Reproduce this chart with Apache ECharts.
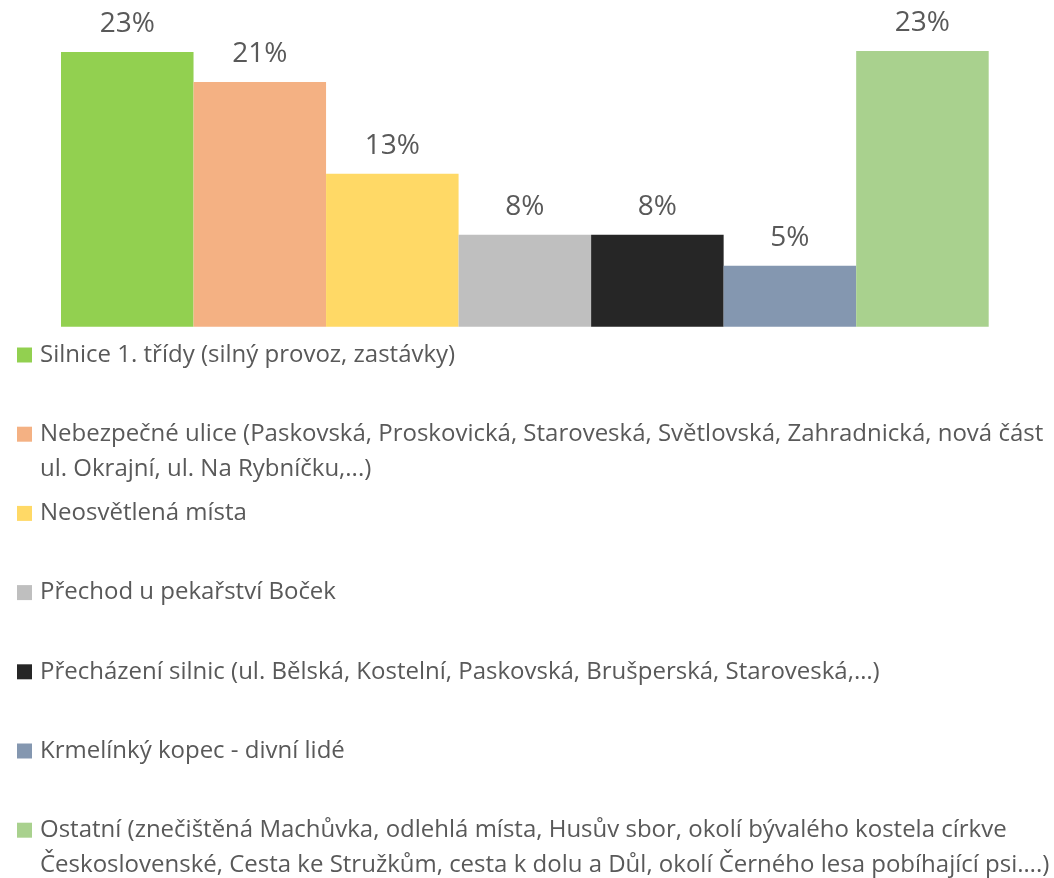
<!DOCTYPE html>
<html>
<head>
<meta charset="utf-8">
<script src="https://cdn.jsdelivr.net/npm/echarts@6/dist/echarts.min.js"></script>
<style>
  html, body { margin: 0; padding: 0; background: #ffffff; }
  #chart { width: 1054px; height: 878px; }
</style>
</head>
<body>
<div id="chart"></div>
<script>
// Categories (legend text; "\n" marks where the long ones wrap)
const categories = [
  'Silnice 1. třídy (silný provoz, zastávky)',
  'Nebezpečné ulice (Paskovská, Proskovická, Staroveská, Světlovská, Zahradnická, nová část\nul. Okrajní, ul. Na Rybníčku,...)',
  'Neosvětlená místa',
  'Přechod u pekařství Boček',
  'Přecházení silnic (ul. Bělská, Kostelní, Paskovská, Brušperská, Staroveská,…)',
  'Krmelínký kopec - divní lidé',
  'Ostatní (znečištěná Machůvka, odlehlá místa, Husův sbor, okolí bývalého kostela církve\nČeskoslovenské, Cesta ke Stružkům, cesta k dolu a Důl, okolí Černého lesa pobíhající psi….)'
];

// Share of answers, in percent
const shares = [23.0, 20.5, 12.8, 7.7, 7.7, 5.1, 23.1];

const colors = ['#92D050', '#F4B183', '#FFD966', '#BFBFBF', '#262626', '#8497B0', '#A9D18E'];

const FONT = '"Open Sans", "Noto Sans", sans-serif';
const TEXT_COLOR = '#595959';
const LINE_H = 35;

// One legend block per category, stacked down the left side
const legendFirstLineY = 355;
const legendPitch = 79.2;

const legends = categories.map((name, i) => {
  const extra = name.split('\n').length - 1;
  const centerY = legendFirstLineY + legendPitch * i;
  return {
    data: [name],
    left: 17,
    top: centerY - LINE_H / 2 - LINE_H * extra,
    padding: 0,
    itemWidth: 15,
    itemHeight: 15,
    icon: 'rect',
    selectedMode: false,
    // blank leading lines keep the swatch level with the first text line
    formatter: n => '\n'.repeat(extra) + n,
    textStyle: {
      fontFamily: FONT,
      fontSize: 24,
      color: TEXT_COLOR,
      lineHeight: LINE_H,
      padding: [0, 0, 0, 3]
    }
  };
});

const series = categories.map((name, i) => ({
  name: name,
  type: 'bar',
  stack: 'share',
  barWidth: '100%',
  itemStyle: { color: colors[i] },
  data: categories.map((_, j) => (j === i ? shares[i] : '-')),
  label: {
    show: true,
    position: 'top',
    distance: 14,
    formatter: p => Math.round(p.value) + '%',
    fontFamily: FONT,
    fontSize: 28,
    lineHeight: 28,
    color: TEXT_COLOR
  }
}));

const chart = echarts.init(document.getElementById('chart'), null, { renderer: 'canvas' });
chart.setOption({
  animation: false,
  backgroundColor: '#ffffff',
  grid: { left: 61, right: 65.3, top: 28.2, bottom: 551.3 },
  xAxis: {
    type: 'category',
    data: categories,
    show: false
  },
  yAxis: {
    type: 'value',
    min: 0,
    max: 25,
    show: false,
    splitLine: { show: false }
  },
  legend: legends,
  series: series
});
</script>
</body>
</html>
